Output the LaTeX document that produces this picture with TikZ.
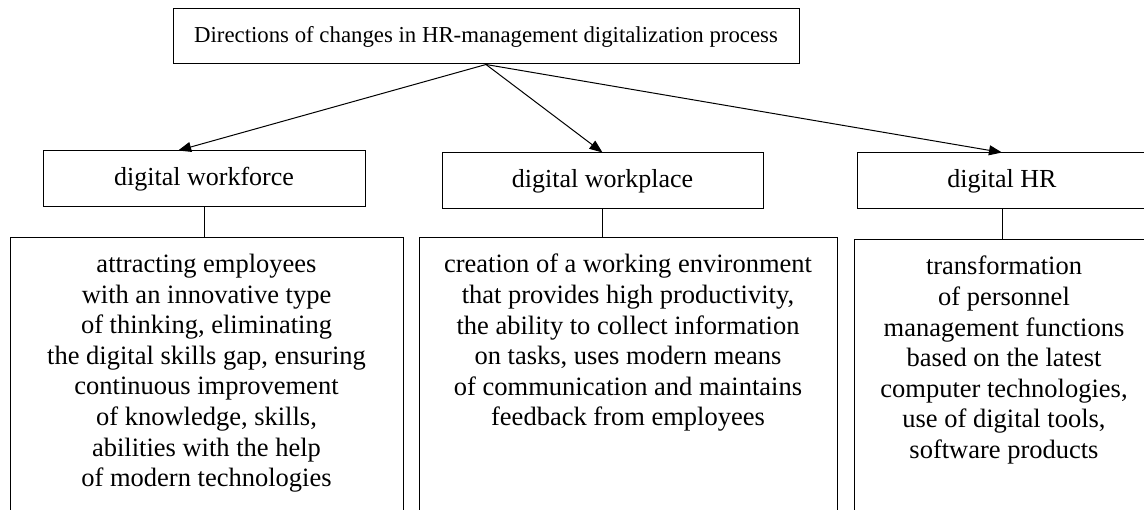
\documentclass[tikz,border=0pt]{standalone}
\usepackage{fontspec}
\setmainfont{Liberation Serif}
\usetikzlibrary{arrows.meta,calc}
\begin{document}
\begin{tikzpicture}[x=1pt,y=-1pt,
  box/.style={draw,line width=1pt,rectangle,inner sep=0pt,font=\fontsize{26}{30.5}\selectfont},
  bigbox/.style={draw,line width=1pt,rectangle,inner sep=0pt,anchor=north},
  body/.style={anchor=north,align=center,inner sep=0pt,font=\fontsize{26.5}{30.6}\selectfont},
  conn/.style={line width=1pt},
  arr/.style={line width=1pt,-{Triangle[length=13pt,width=10pt]}}]
\useasboundingbox (0,0) rectangle (1144,510);
\clip (-1,-1) rectangle (1145,511);
\node[box,minimum width=626,minimum height=55,font=\fontsize{22.8}{27}\selectfont] (title) at (486,36.5) {Directions of changes in HR-management digitalization process};
\node[box,minimum width=322,minimum height=56] (b1) at (204,179) {digital workforce};
\node[box,minimum width=321,minimum height=56] (b2) at (602.5,181) {digital workplace};
\node[box,minimum width=290,minimum height=56] (b3) at (1002,181) {digital HR};
\node[bigbox,minimum width=393,minimum height=320] (d1) at (206.5,237) {};
\node[bigbox,minimum width=418,minimum height=320] (d2) at (628,237) {};
\node[bigbox,minimum width=300,minimum height=320] (d3) at (1004,239) {};
\node[body] (t1) at ([yshift=-17pt]d1.north) {attracting employees\\with an innovative type\\of thinking, eliminating\\the digital skills gap, ensuring\\continuous improvement\\of knowledge, skills,\\abilities with the help\\of modern technologies};
\node[body] (t2) at ([yshift=-17pt]d2.north) {creation of a working environment\\that provides high productivity,\\the ability to collect information\\on tasks, uses modern means\\of communication and maintains\\feedback from employees};
\node[body] (t3) at ([yshift=-17pt]d3.north) {transformation\\of personnel\\management functions\\based on the latest\\computer technologies,\\use of digital tools,\\software products};
\coordinate (e1) at ($(b1.north west)!0.42!(b1.north east)$);
\draw[arr] (title.south) -- (e1);
\draw[arr] (title.south) -- (b2.north);
\draw[arr] (title.south) -- (b3.north);
\draw[conn] (b1.south) -- (b1.south |- d1.north);
\draw[conn] (b2.south) -- (b2.south |- d2.north);
\draw[conn] (b3.south) -- (b3.south |- d3.north);
\end{tikzpicture}
\end{document}
